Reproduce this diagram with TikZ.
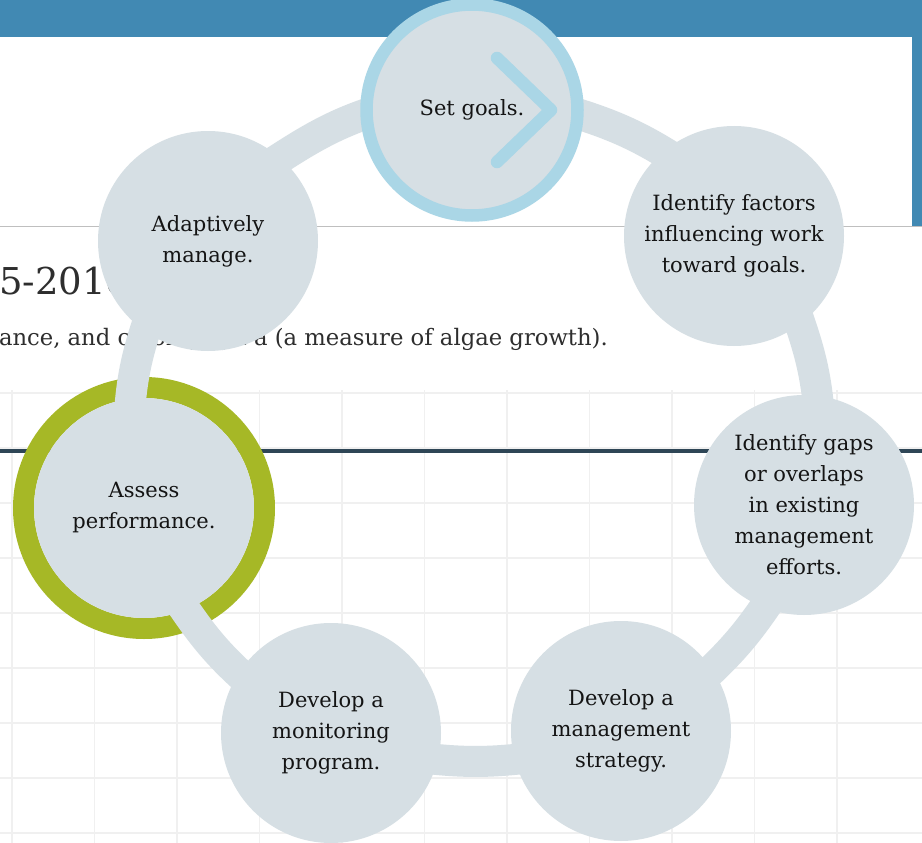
\documentclass[tikz,border=0pt]{standalone}
\usepackage{fontspec}
\setmainfont{DejaVu Serif}
\definecolor{nodefill}{HTML}{D6DFE4}
\definecolor{ringblue}{HTML}{AAD6E6}
\definecolor{ringgreen}{HTML}{A6B826}
\definecolor{topblue}{HTML}{4189B3}
\definecolor{darkline}{HTML}{2E4656}
\definecolor{gridc}{HTML}{F0F0F0}
\definecolor{txt}{HTML}{141414}
\definecolor{pagetxt}{HTML}{2E2E2E}
\pgfdeclarelayer{bg}
\pgfdeclarelayer{ringlayer}
\pgfdeclarelayer{bandlayer}
\pgfsetlayers{bg,ringlayer,bandlayer,main}
\begin{document}
\begin{tikzpicture}[x=1pt,y=1pt,
  stage/.style={circle, fill=nodefill, minimum size=220pt, inner sep=0pt, outer sep=0pt,
    align=center, text=txt, font=\fontsize{21}{31}\selectfont},
  band/.style={draw=nodefill, line width=31pt, shorten <=-8pt, shorten >=-8pt, looseness=0.9},
  chev/.style={draw=ringblue, line width=12.5pt, line cap=round, line join=round},
  gridline/.style={draw=gridc, line width=1.5pt},
  pagetext/.style={anchor=base west, inner sep=0pt, outer sep=0pt, text=pagetxt}
]
\useasboundingbox (0,0) rectangle (922,-843);
% ---------- web page background ----------
\begin{pgfonlayer}{bg}
  \fill[white] (0,0) rectangle (922,-843);
  \fill[topblue] (0,0) rectangle (922,-37);
  \fill[topblue] (912,-37) rectangle (922,-226);
  \draw[black!25, line width=1.2pt] (0,-226.5) -- (922,-226.5);
  \foreach \k in {0,...,10} \draw[gridline] ({12+82.5*\k},-390) -- ({12+82.5*\k},-843);
  \foreach \k in {0,...,8} \draw[gridline] (0,{-393-55*\k}) -- (922,{-393-55*\k});
  \draw[darkline, line width=4pt] (0,-451) -- (922,-451);
  \node[pagetext, font=\fontsize{37}{44}\selectfont] (yr) at (-1,-294) {5-2016};
  \node[pagetext, font=\fontsize{22.7}{27}\selectfont] (cap) at (-1,-345) {ance, and chlorophyll a (a measure of algae growth).};
\end{pgfonlayer}
% ---------- stages ----------
\node[stage, draw=ringblue, line width=12.5pt, minimum size=211pt] (S) at (472,-110) {Set goals.};
\node[stage] (F) at (734,-236) {Identify factors\\influencing work\\toward goals.};
\node[stage] (G) at (804,-505) {Identify gaps\\or overlaps\\in existing\\management\\efforts.};
\node[stage] (M) at (621,-731) {Develop a\\management\\strategy.};
\node[stage] (P) at (331,-733) {Develop a\\monitoring\\program.};
\node[stage] (A) at (144,-508) {Assess\\performance.};
\node[stage] (D) at (208,-241) {Adaptively\\manage.};
% chevron in the first stage
\draw[chev] ([shift={(25,52)}]S.center) -- ([shift={(79,0)}]S.center) -- ([shift={(25,-52)}]S.center);
% green highlight ring
\begin{pgfonlayer}{ringlayer}
  \draw[ringgreen, line width=21pt] (A.center) circle[radius=120.5];
\end{pgfonlayer}
% ---------- cycle band ----------
\begin{pgfonlayer}{bandlayer}
  \draw[band] (S.-2)   to[out=-17,  in=148] (F.130);
  \draw[band] (F.-53)  to[out=-71,  in=96]  (G.83);
  \draw[band] (G.-111) to[out=-124, in=43]  (M.34);
  \draw[band] (M.-165) to[out=-174, in=-6]  (P.-14);
  \draw[band] (P.147)  to[out=138,  in=-56] (A.-68);
  \draw[band] (A.97)   to[out=85,   in=-108] (D.-125);
  \draw[band] (D.49)   to[out=33,   in=-162] (S.-178);
\end{pgfonlayer}
\end{tikzpicture}
\end{document}
